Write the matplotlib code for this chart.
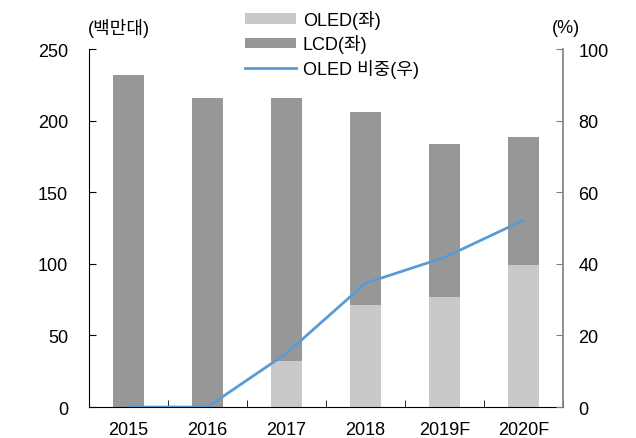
import matplotlib.pyplot as plt
import numpy as np

plt.rcParams['font.family'] = ['Liberation Sans', 'Noto Sans CJK KR']

# 데이터
years = ['2015', '2016', '2017', '2018', '2019F', '2020F']
oled = [0, 0, 32, 71, 77, 99]
lcd = [232, 216, 184, 135, 107, 90]
oled_share = [0, 0, 15, 34.6, 41.8, 52.2]

c_oled = '#c9c9c9'
c_lcd = '#979797'
c_line = '#5b9bd5'

fig = plt.figure(figsize=(6.36, 4.39), dpi=100)
ax = fig.add_axes([0.14, 0.0706, 0.745, 0.815])
ax2 = ax.twinx()

x = np.arange(len(years))
b1 = ax.bar(x, oled, width=0.4, color=c_oled, label='OLED(좌)', zorder=2)
b2 = ax.bar(x, lcd, width=0.4, bottom=oled, color=c_lcd, label='LCD(좌)', zorder=2)
l1, = ax2.plot(x, oled_share, color=c_line, lw=2, label='OLED 비중(우)')

ax.set_xlim(-0.5, len(years) - 0.5)
ax.set_ylim(0, 250)
ax.set_yticks(range(0, 251, 50))
ax2.set_ylim(0, 100)
ax2.set_yticks(range(0, 101, 20))

ax.set_xticks(x)
ax.set_xticklabels(years)
ax.set_xticks(np.arange(-0.5, len(years), 1), minor=True)
ax.tick_params(axis='x', which='major', direction='in', length=4, color='#595959',
               labelsize=13, pad=10)
ax.tick_params(axis='x', which='minor', direction='in', length=5)
ax.tick_params(axis='y', direction='in', length=5, labelsize=13, pad=15)
ax2.tick_params(axis='y', direction='in', length=5, labelsize=13, pad=11, color='#7f7f7f')

ax.spines['top'].set_visible(False)
ax2.spines['top'].set_visible(False)
ax.spines['right'].set_visible(False)
ax2.spines['left'].set_visible(False)
ax2.spines['bottom'].set_visible(False)
ax2.spines['right'].set_color('#7f7f7f')
ax2.spines['right'].set_linewidth(1.2)

fig.text(0.138, 0.936, '(백만대)', fontsize=13, ha='left', va='center')
fig.text(0.89, 0.936, '(%)', fontsize=13, ha='center', va='center')

fig.legend([b1, b2, l1], ['OLED(좌)', 'LCD(좌)', 'OLED 비중(우)'],
           loc='upper left', bbox_to_anchor=(0.36, 1.012), frameon=False,
           fontsize=13, handlelength=2.8, handleheight=0.5,
           handletextpad=0.4, labelspacing=0.3)

fig.savefig('out.png', dpi=100)
